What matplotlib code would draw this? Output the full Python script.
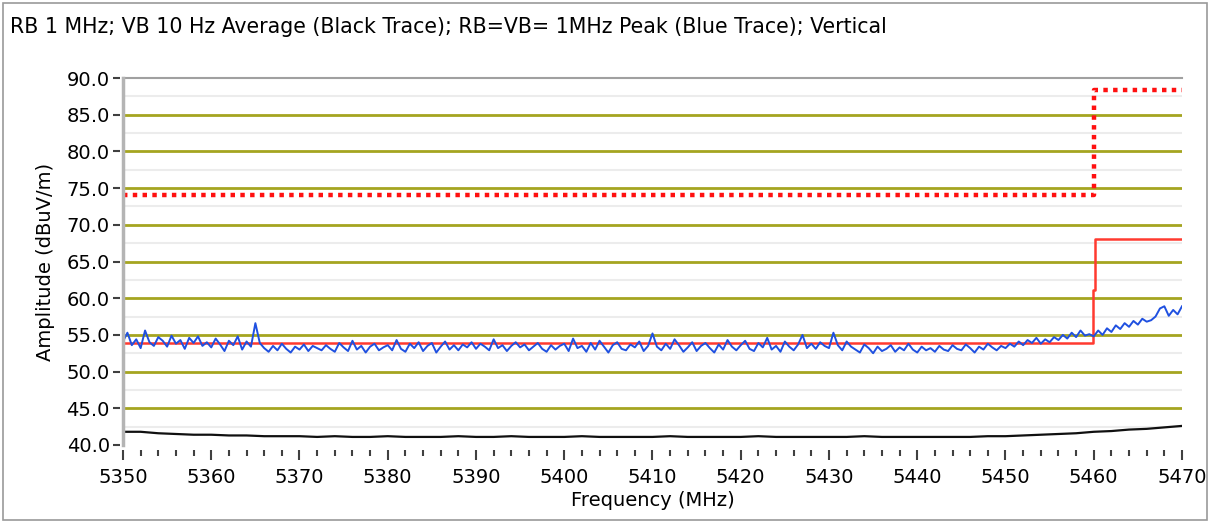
import numpy as np
import matplotlib.pyplot as plt
from matplotlib.patches import Rectangle
from matplotlib.ticker import MultipleLocator

plt.rcParams.update({
    'font.family': 'DejaVu Sans',
    'font.size': 14,
})

# Peak trace (blue), 0.5 MHz steps from 5350 to 5470 MHz
peak_start = 5350.0
peak_step = 0.5
peak_vals = [
    54.1, 55.3, 53.6, 54.4, 53.2, 55.6, 54.0, 53.5, 54.7, 54.2, 53.4, 54.9, 53.8, 54.3, 53.1, 54.6, 53.9, 54.8, 53.5, 54.0,
    53.3, 54.5, 53.7, 52.8, 54.2, 53.6, 54.8, 53.0, 54.1, 53.4, 56.6, 53.9, 53.2, 52.7, 53.5, 52.9, 53.8, 53.1, 52.6, 53.4,
    53.0, 53.7, 52.8, 53.5, 53.2, 52.9, 53.6, 53.1, 52.7, 53.9, 53.3, 52.8, 54.2, 53.0, 53.5, 52.6, 53.4, 53.8, 52.9, 53.3,
    53.6, 52.9, 54.3, 53.1, 52.7, 53.8, 53.2, 54.0, 52.8, 53.5, 53.9, 52.6, 53.4, 54.1, 53.0, 53.6, 52.9, 53.7, 53.3, 54.0,
    53.1, 53.8, 53.4, 52.9, 54.4, 53.2, 53.6, 52.8, 53.5, 54.0, 53.3, 53.7, 52.9, 53.4, 53.9, 53.1, 52.7, 53.6, 53.0, 53.5,
    53.8, 52.8, 54.5, 53.2, 53.5, 52.7, 53.9, 53.0, 54.2, 53.4, 52.6, 53.6, 54.0, 53.1, 52.9, 53.7, 53.3, 54.1, 52.8, 53.5,
    55.2, 53.4, 52.9, 53.8, 53.1, 54.4, 53.6, 52.7, 53.3, 54.0, 52.8, 53.5, 53.9, 53.2, 52.6, 53.7, 53.0, 54.3, 53.4, 52.9,
    53.6, 54.2, 53.1, 52.8, 53.9, 53.3, 54.6, 53.0, 53.5, 52.7, 54.1, 53.4, 52.9, 53.7, 55.0, 53.2, 53.8, 53.1, 54.0, 53.5,
    53.2, 55.3, 53.6, 52.9, 54.1, 53.4, 53.0, 52.6, 53.7, 53.2, 52.5, 53.4, 52.8, 53.1, 53.6, 52.7, 53.3, 52.9, 53.8, 53.0,
    52.6, 53.4, 52.9, 53.2, 52.7, 53.5, 53.0, 52.8, 53.6, 53.1, 52.9, 53.7, 53.2, 52.6, 53.4, 53.0, 53.8, 53.3, 52.9, 53.5,
    53.2, 53.8, 53.4, 54.1, 53.6, 54.3, 53.9, 54.6, 53.8, 54.4, 54.0, 54.7, 54.3, 55.0, 54.5, 55.3, 54.7, 55.6, 54.9, 55.1,
    54.8, 55.6, 55.0, 55.9, 55.4, 56.3, 55.8, 56.6, 56.1, 56.9, 56.4, 57.2, 56.8, 57.0, 57.5, 58.6, 58.9, 57.6, 58.4, 57.8,
    58.9,
]

# Average trace (black), 2 MHz steps
avg_freq = list(range(5350, 5471, 2))
avg_vals = [
    41.8, 41.8, 41.6, 41.5, 41.4, 41.4, 41.3, 41.3, 41.2, 41.2,
    41.2, 41.1, 41.2, 41.1, 41.1, 41.2, 41.1, 41.1, 41.1, 41.2,
    41.1, 41.1, 41.2, 41.1, 41.1, 41.1, 41.2, 41.1, 41.1, 41.1,
    41.1, 41.2, 41.1, 41.1, 41.1, 41.1, 41.2, 41.1, 41.1, 41.1,
    41.1, 41.1, 41.2, 41.1, 41.1, 41.1, 41.1, 41.1, 41.1, 41.2,
    41.2, 41.3, 41.4, 41.5, 41.6, 41.8, 41.9, 42.1, 42.2, 42.4,
    42.6,
]

# Limit lines
avg_limit_freq = [5350, 5459.9, 5459.9, 5460.1, 5460.1, 5470]
avg_limit_vals = [53.9, 53.9, 61.1, 61.1, 68.1, 68.1]
peak_limit_freq = [5350, 5460, 5460, 5470]
peak_limit_vals = [74.0, 74.0, 88.3, 88.3]

title = 'RB 1 MHz; VB 10 Hz Average (Black Trace); RB=VB= 1MHz Peak (Blue Trace); Vertical'

W, H = 1211, 523
fig = plt.figure(figsize=(W / 100, H / 100), dpi=100)
fig.patch.set_facecolor('white')
ax = fig.add_axes([123 / W, 1 - 445 / H, (1182 - 123) / W, (445 - 78) / H])

# frame round the whole picture
fig.add_artist(Rectangle((3 / W, 3 / H), (1207 - 3) / W, (520 - 3) / H,
                         transform=fig.transFigure, fill=False,
                         edgecolor='#9a9a9a', lw=1.2))
fig.text(10 / W, 1 - 27 / H, title, ha='left', va='center', fontsize=14.8)

# grid
for v in np.arange(42.5, 90, 5):
    ax.axhline(v, color='#ececec', lw=1.5, zorder=1)
for v in range(45, 90, 5):
    ax.axhline(v, color='#a5a520', lw=2, zorder=1)

peak_freq = peak_start + peak_step * np.arange(len(peak_vals))
ax.plot(peak_limit_freq, peak_limit_vals, color='#ff1010', lw=3.2,
        linestyle=(0, (1, 1.2)), zorder=3)
ax.plot(avg_limit_freq, avg_limit_vals, color='#ff3a30', lw=1.8, zorder=3)
ax.plot(peak_freq, peak_vals, color='#1f50e0', lw=1.4, zorder=4)
ax.plot(avg_freq, avg_vals, color='#101010', lw=1.6, zorder=4)

ax.set_xlim(5350, 5470)
ax.set_ylim(40, 90)
ax.xaxis.set_major_locator(MultipleLocator(10))
ax.xaxis.set_minor_locator(MultipleLocator(2))
ax.yaxis.set_major_locator(MultipleLocator(5))
ax.yaxis.set_major_formatter(lambda v, p: f'{v:.1f}')

ax.spines['right'].set_visible(False)
ax.spines['top'].set_color('#a0a0a0')
ax.spines['top'].set_linewidth(1.5)
ax.spines['bottom'].set_position(('outward', 3.6))
ax.spines['bottom'].set_visible(False)
ax.spines['left'].set_position(('outward', 2.5))
ax.spines['left'].set_visible(False)
ax.axvline(5350, color='#b4b4b4', lw=2.5, zorder=5, clip_on=False)

ax.tick_params(axis='x', which='major', length=7, width=1.5, color='#404040', pad=6)
ax.tick_params(axis='x', which='minor', length=4, width=1.5, color='#404040')
ax.tick_params(axis='y', which='major', length=5, width=1.5, color='#404040', pad=2)

ax.set_xlabel('Frequency (MHz)', labelpad=3)
ax.set_ylabel('Amplitude (dBuV/m)', labelpad=8)

fig.savefig('out.png', dpi=100)
